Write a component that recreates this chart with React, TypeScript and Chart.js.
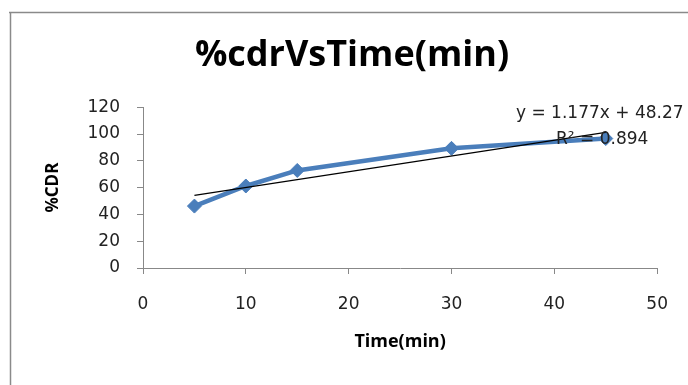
import React, { useEffect, useRef } from "react";
import { Chart, registerables } from "chart.js";

Chart.register(...registerables);

const TIME_MIN = [5, 10, 15, 30, 45];
const CDR_PERCENT = [46.2, 61.2, 72.8, 89.3, 96.6];
const TREND_SLOPE = 1.177;
const TREND_INTERCEPT = 48.27;
const TREND_X = [5, 45];
const EQUATION_TEXT = "y = 1.177x + 48.27";
const R2_TEXT = "R² = 0.894";
const TITLE = "%cdrVsTime(min)";
const X_TITLE = "Time(min)";
const Y_TITLE = "%CDR";

const W = 688;
const H = 385;

export default function App() {
  const ref = useRef<HTMLCanvasElement | null>(null);

  useEffect(() => {
    const canvas = ref.current;
    if (!canvas) return;

    const framePlugin = {
      id: "frame",
      beforeDraw(chart: any) {
        const ctx = chart.ctx;
        ctx.save();
        ctx.strokeStyle = "#8a8a8a";
        ctx.lineWidth = 1.5;
        ctx.beginPath();
        ctx.moveTo(9, 12.5);
        ctx.lineTo(W, 12.5);
        ctx.moveTo(10.5, 12);
        ctx.lineTo(10.5, H);
        ctx.stroke();
        ctx.restore();
      },
    };

    const equationPlugin = {
      id: "equation",
      afterDatasetsDraw(chart: any) {
        const ctx = chart.ctx;
        ctx.save();
        ctx.fillStyle = "#222";
        ctx.font = "17px 'DejaVu Sans'";
        ctx.textAlign = "left";
        ctx.textBaseline = "middle";
        ctx.fillText(EQUATION_TEXT, 516, 114);
        ctx.fillText(R2_TEXT, 556, 140);
        ctx.restore();
      },
    };

    const chart = new Chart(canvas, {
      type: "scatter",
      data: {
        datasets: [
          {
            label: "Linear",
            data: TREND_X.map((x) => ({ x, y: TREND_SLOPE * x + TREND_INTERCEPT })),
            showLine: true,
            borderColor: "#000",
            borderWidth: 1.2,
            pointRadius: 0,
            fill: false,
          },
          {
            label: "%CDR",
            data: TIME_MIN.map((x, i) => ({ x, y: CDR_PERCENT[i] })),
            showLine: true,
            borderColor: "#4a7ebb",
            backgroundColor: "#4a7ebb",
            borderWidth: 4.5,
            pointStyle: "rectRot",
            pointRadius: 7,
            pointBorderWidth: 1,
            fill: false,
          },
        ],
      },
      options: {
        animation: false,
        responsive: false,
        events: [],
        layout: { padding: { left: 45, right: 29, top: 0, bottom: 0 } },
        plugins: {
          legend: { display: false },
          tooltip: { enabled: false },
          title: {
            display: true,
            text: TITLE,
            color: "#000",
            font: { family: "'Open Sans'", size: 36, weight: "bold" },
            padding: { top: 34, bottom: 30 },
          },
        },
        scales: {
          x: {
            type: "linear",
            min: 0,
            max: 50,
            afterFit: (s: any) => {
              s.height = 117;
            },
            ticks: {
              stepSize: 10,
              color: "#222",
              padding: 20,
              font: { family: "'DejaVu Sans'", size: 17 },
            },
            grid: { drawOnChartArea: false, drawTicks: true, tickLength: 6, color: "#888" },
            border: { color: "#888", width: 1 },
            title: {
              display: true,
              text: X_TITLE,
              color: "#000",
              font: { family: "'Open Sans'", size: 18, weight: "bold" },
              padding: { top: 0, bottom: 32 },
            },
          },
          y: {
            type: "linear",
            min: 0,
            max: 120,
            afterFit: (s: any) => {
              s.width = 98;
            },
            ticks: {
              stepSize: 20,
              color: "#222",
              padding: 17,
              font: { family: "'DejaVu Sans'", size: 17 },
            },
            grid: { drawOnChartArea: false, drawTicks: true, tickLength: 6, color: "#888" },
            border: { color: "#888", width: 1 },
            title: {
              display: true,
              text: Y_TITLE,
              color: "#000",
              font: { family: "'Open Sans'", size: 17, weight: "bold" },
              padding: { top: -2, bottom: 0 },
            },
          },
        },
      },
      plugins: [framePlugin, equationPlugin],
    });

    return () => chart.destroy();
  }, []);

  return (
    <div style={{ position: "fixed", left: 0, top: 0, width: W, height: H, background: "#fff" }}>
      <canvas ref={ref} width={W} height={H} style={{ display: "block" }} />
    </div>
  );
}
